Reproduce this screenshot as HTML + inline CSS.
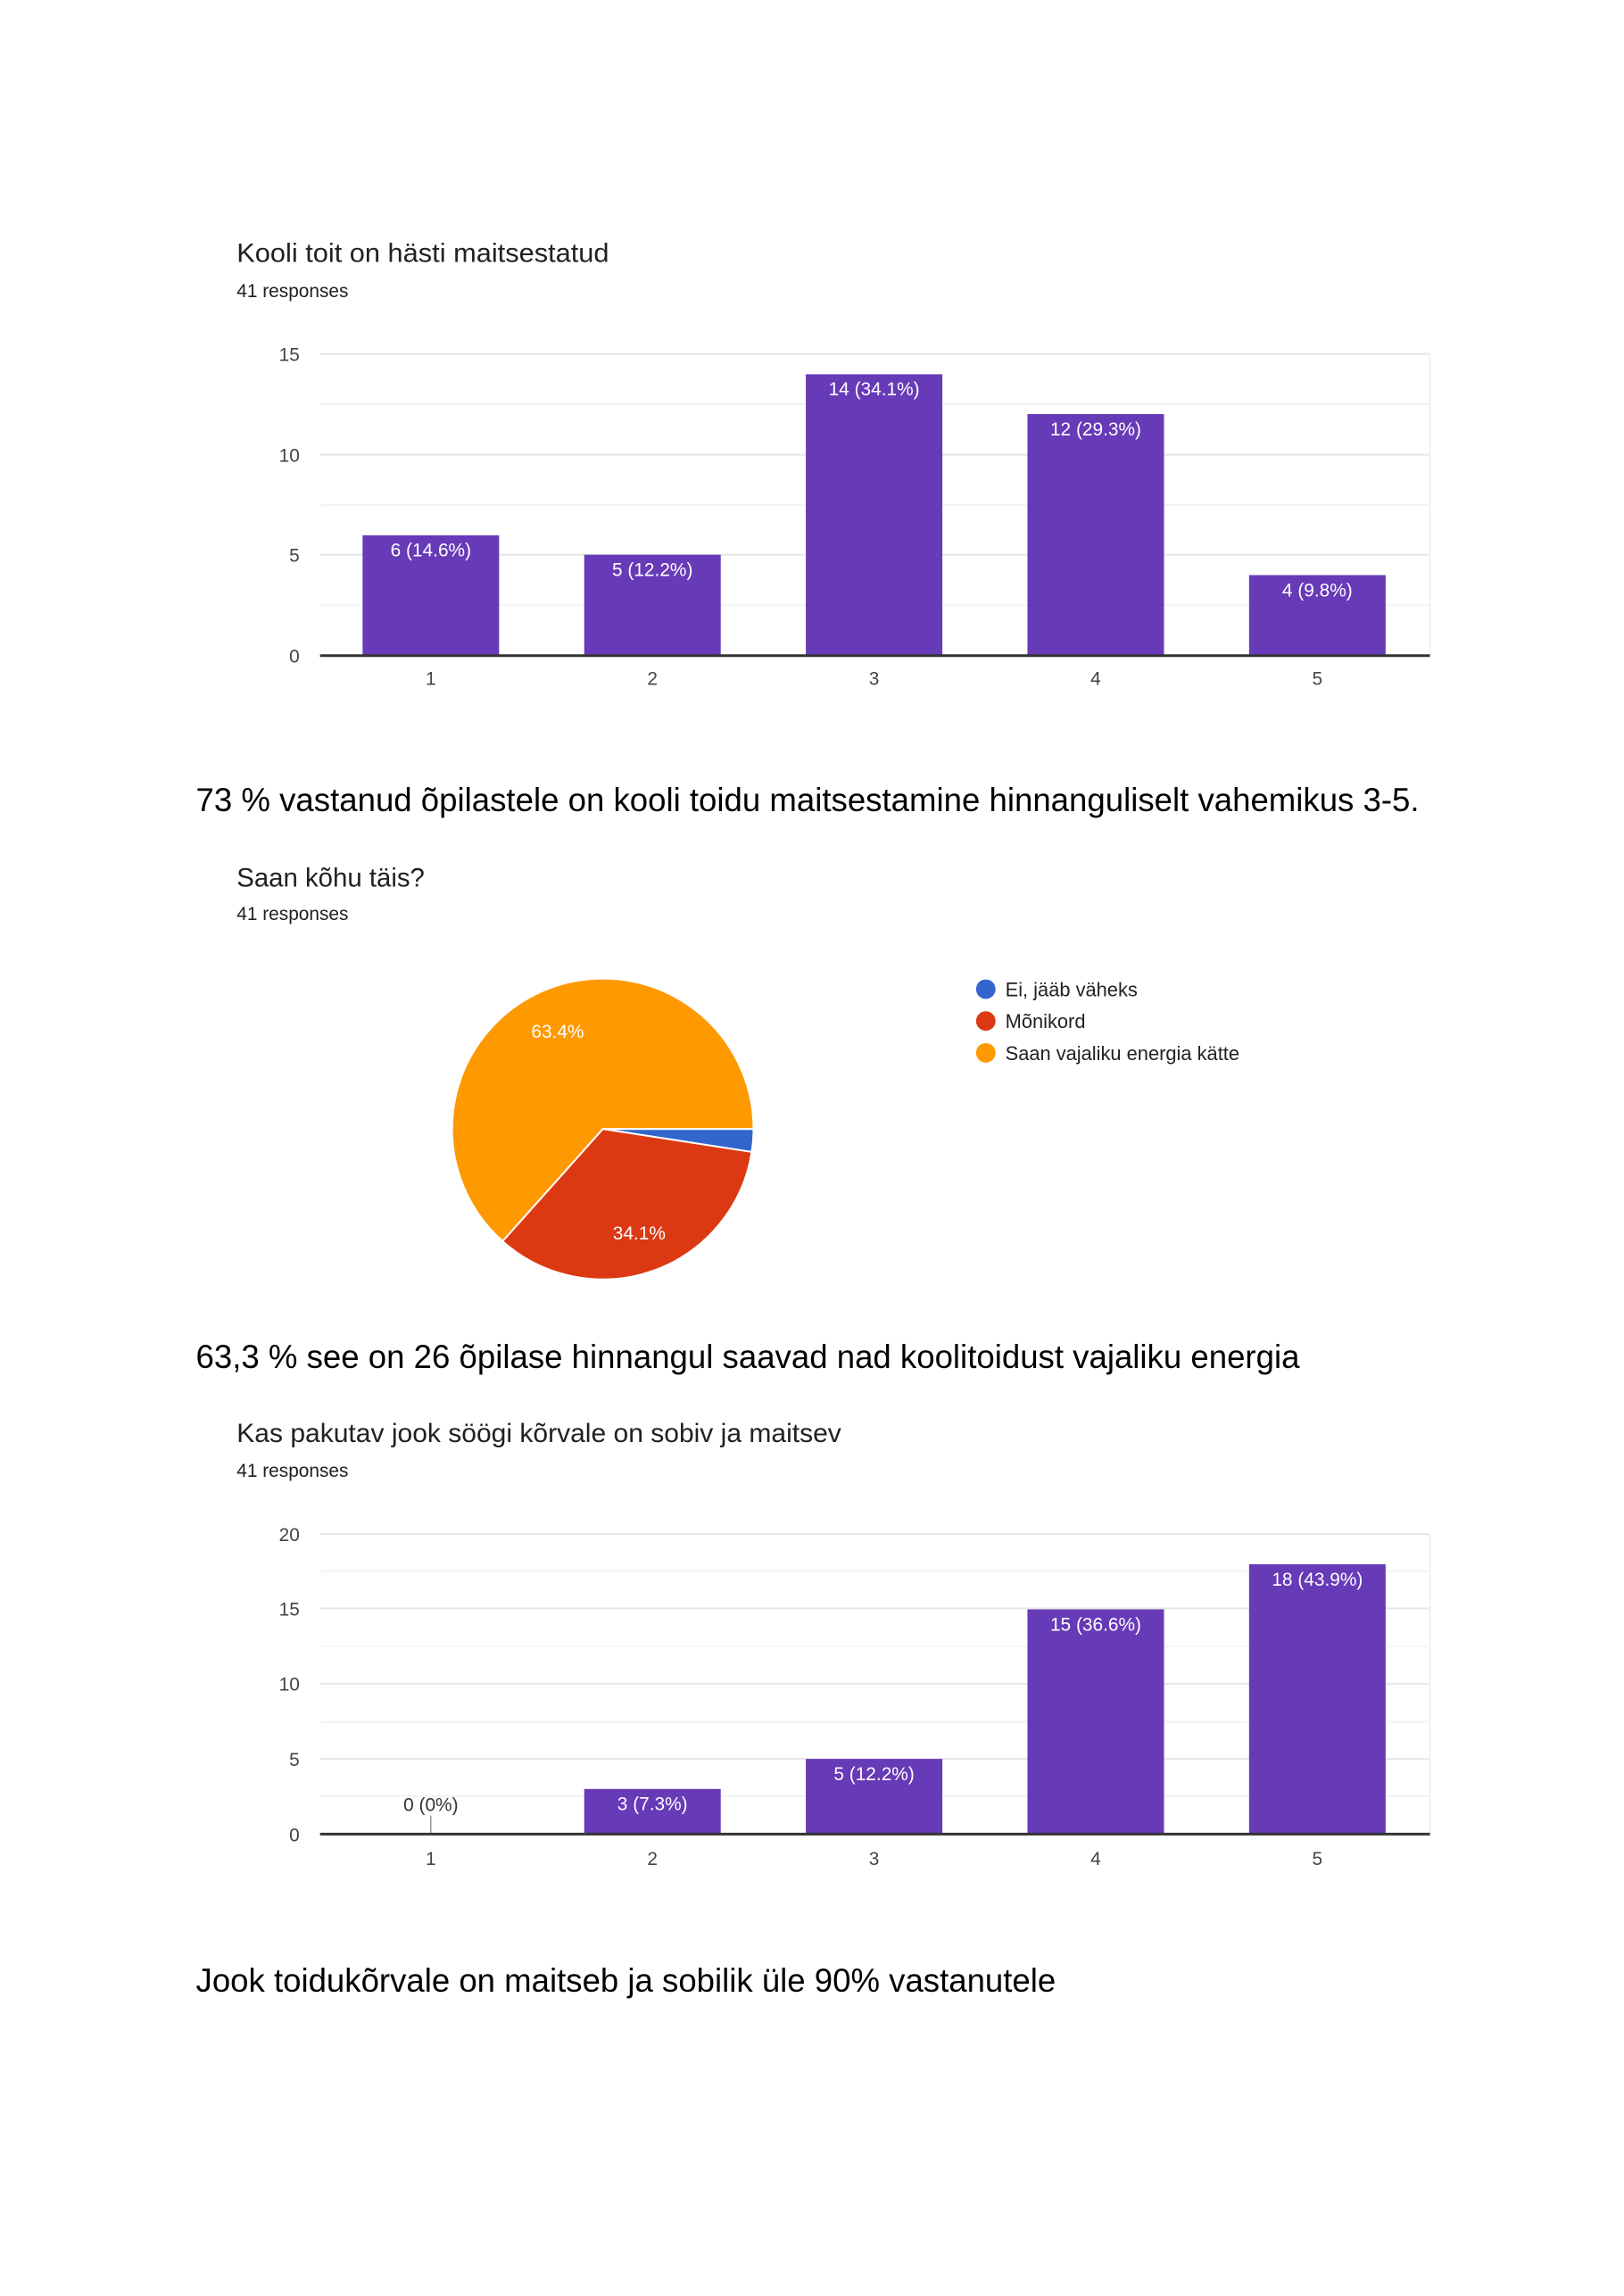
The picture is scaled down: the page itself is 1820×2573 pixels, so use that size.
<!DOCTYPE html>
<html><head><meta charset="utf-8"><style>
html,body{margin:0;padding:0;background:#fff;}
svg{display:block;font-family:"Liberation Sans",Arial,sans-serif;}
</style></head><body>
<svg width="1820" height="2573" viewBox="0 0 1820 2573" xmlns="http://www.w3.org/2000/svg">
<rect width="1820" height="2573" fill="#fff"/>
<g transform="scale(0.9935,0.9915)">
<!-- Chart 1 -->
<text x="267" y="296" font-size="30" fill="#212121" textLength="420" lengthAdjust="spacingAndGlyphs">Kooli toit on hästi maitsestatud</text>
<text x="267" y="336" font-size="21" fill="#212121">41 responses</text>
<g stroke="#f3f3f3" stroke-width="2">
<line x1="361" y1="457" x2="1613" y2="457"/><line x1="361" y1="571" x2="1613" y2="571"/><line x1="361" y1="684" x2="1613" y2="684"/>
</g>
<g stroke="#e6e6e6" stroke-width="2">
<line x1="361" y1="400" x2="1613" y2="400"/><line x1="361" y1="514" x2="1613" y2="514"/><line x1="361" y1="627" x2="1613" y2="627"/>
</g>
<line x1="1613" y1="400" x2="1613" y2="741" stroke="#f0f0f0" stroke-width="2"/>
<g fill="#673ab7">
<rect x="409" y="605" width="154" height="136"/>
<rect x="659" y="627" width="154" height="114"/>
<rect x="909" y="423" width="154" height="318"/>
<rect x="1159" y="468" width="154" height="273"/>
<rect x="1409" y="650" width="154" height="91"/>
</g>
<line x1="361" y1="741" x2="1613" y2="741" stroke="#333" stroke-width="3"/>
<g font-size="21" fill="#fff" text-anchor="middle">
<text x="486" y="629">6 (14.6%)</text><text x="736" y="651">5 (12.2%)</text><text x="986" y="447">14 (34.1%)</text><text x="1236" y="492">12 (29.3%)</text><text x="1486" y="674">4 (9.8%)</text>
</g>
<g font-size="21" fill="#444" text-anchor="end">
<text x="338" y="408">15</text><text x="338" y="522">10</text><text x="338" y="635">5</text><text x="338" y="749">0</text>
</g>
<g font-size="21" fill="#444" text-anchor="middle">
<text x="486" y="774">1</text><text x="736" y="774">2</text><text x="986" y="774">3</text><text x="1236" y="774">4</text><text x="1486" y="774">5</text>
</g>
<text x="221" y="917" font-size="37" fill="#000" textLength="1380" lengthAdjust="spacingAndGlyphs">73 % vastanud õpilastele on kooli toidu maitsestamine hinnanguliselt vahemikus 3-5.</text>
<!-- Pie -->
<text x="267" y="1002" font-size="30" fill="#212121" textLength="212" lengthAdjust="spacingAndGlyphs">Saan kõhu täis?</text>
<text x="267" y="1040" font-size="21" fill="#212121">41 responses</text>
<path d="M680,1276 L850,1276 A170,170 0 0 1 848,1302 Z" fill="#3366cc" stroke="#fff" stroke-width="2"/>
<path d="M680,1276 L848,1302 A170,170 0 0 1 566.9,1402.9 Z" fill="#dc3912" stroke="#fff" stroke-width="2"/>
<path d="M680,1276 L566.9,1402.9 A170,170 0 1 1 850,1276 Z" fill="#ff9900" stroke="#fff" stroke-width="2"/>
<text x="629" y="1173" font-size="21" fill="#fff" text-anchor="middle">63.4%</text>
<text x="721" y="1401" font-size="21" fill="#fff" text-anchor="middle">34.1%</text>
<circle cx="1112" cy="1118" r="11" fill="#3366cc"/>
<circle cx="1112" cy="1154" r="11" fill="#dc3912"/>
<circle cx="1112" cy="1190" r="11" fill="#ff9900"/>
<g font-size="22" fill="#222">
<text x="1134" y="1126">Ei, jääb väheks</text><text x="1134" y="1162">Mõnikord</text><text x="1134" y="1198">Saan vajaliku energia kätte</text>
</g>
<text x="221" y="1546" font-size="37" fill="#000" textLength="1245" lengthAdjust="spacingAndGlyphs">63,3 % see on 26 õpilase hinnangul saavad nad koolitoidust vajaliku energia</text>
<!-- Chart 3 -->
<text x="267" y="1630" font-size="30" fill="#212121" textLength="682" lengthAdjust="spacingAndGlyphs">Kas pakutav jook söögi kõrvale on sobiv ja maitsev</text>
<text x="267" y="1669" font-size="21" fill="#212121">41 responses</text>
<g stroke="#f3f3f3" stroke-width="2">
<line x1="361" y1="1776" x2="1613" y2="1776"/><line x1="361" y1="1861" x2="1613" y2="1861"/><line x1="361" y1="1946" x2="1613" y2="1946"/><line x1="361" y1="2030" x2="1613" y2="2030"/>
</g>
<g stroke="#e6e6e6" stroke-width="2">
<line x1="361" y1="1734" x2="1613" y2="1734"/><line x1="361" y1="1818" x2="1613" y2="1818"/><line x1="361" y1="1903" x2="1613" y2="1903"/><line x1="361" y1="1988" x2="1613" y2="1988"/>
</g>
<line x1="1613" y1="1734" x2="1613" y2="2073" stroke="#f0f0f0" stroke-width="2"/>
<g fill="#673ab7">
<rect x="659" y="2022" width="154" height="51"/>
<rect x="909" y="1988" width="154" height="85"/>
<rect x="1159" y="1819" width="154" height="254"/>
<rect x="1409" y="1768" width="154" height="305"/>
</g>
<line x1="486" y1="2052" x2="486" y2="2073" stroke="#666" stroke-width="1"/>
<line x1="361" y1="2073" x2="1613" y2="2073" stroke="#333" stroke-width="3"/>
<text x="486" y="2047" font-size="21" fill="#333" text-anchor="middle">0 (0%)</text>
<g font-size="21" fill="#fff" text-anchor="middle">
<text x="736" y="2046">3 (7.3%)</text><text x="986" y="2012">5 (12.2%)</text><text x="1236" y="1843">15 (36.6%)</text><text x="1486" y="1792">18 (43.9%)</text>
</g>
<g font-size="21" fill="#444" text-anchor="end">
<text x="338" y="1742">20</text><text x="338" y="1826">15</text><text x="338" y="1911">10</text><text x="338" y="1996">5</text><text x="338" y="2081">0</text>
</g>
<g font-size="21" fill="#444" text-anchor="middle">
<text x="486" y="2108">1</text><text x="736" y="2108">2</text><text x="986" y="2108">3</text><text x="1236" y="2108">4</text><text x="1486" y="2108">5</text>
</g>
<text x="221" y="2251" font-size="37" fill="#000" textLength="970" lengthAdjust="spacingAndGlyphs">Jook toidukõrvale on maitseb ja sobilik üle 90% vastanutele</text>
</g>
</svg>
</body></html>
